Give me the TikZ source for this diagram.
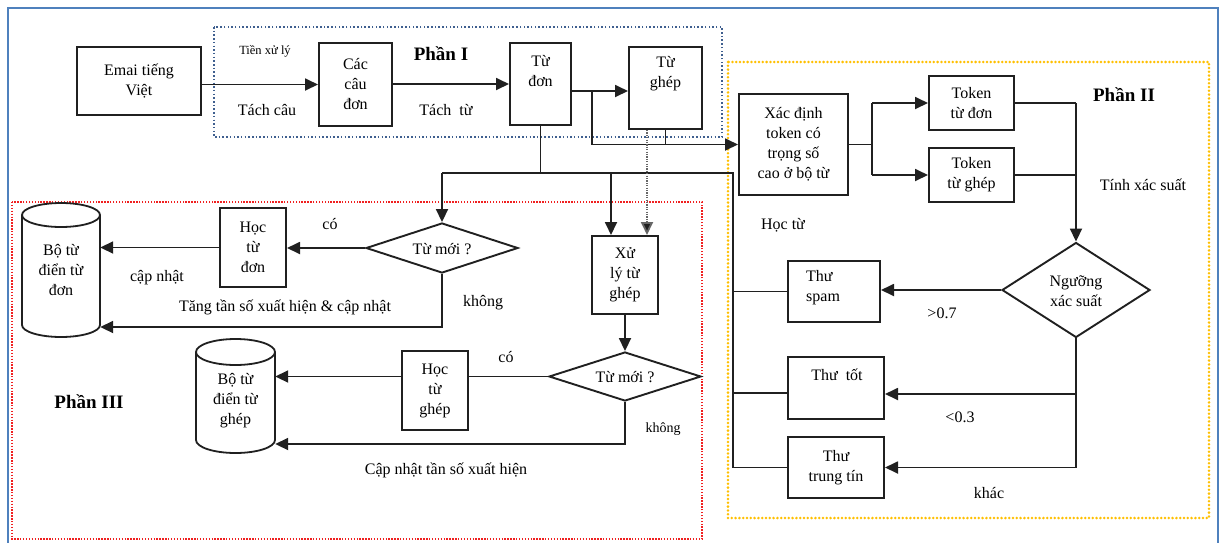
\documentclass[tikz,border=0pt]{standalone}
\usepackage{fontspec}
\setmainfont{Liberation Serif}
\usetikzlibrary{shapes.geometric,arrows.meta}
\definecolor{bordblue}{HTML}{4F81BD}
\definecolor{p1blue}{HTML}{3F5F8F}
\definecolor{p2gold}{HTML}{FFC000}
\definecolor{p3red}{HTML}{F02020}
\definecolor{ink}{HTML}{202020}
\begin{document}
\begin{tikzpicture}[x=1pt,y=-1pt,
  every node/.style={font=\fontsize{16}{20}\selectfont, inner sep=0pt, align=center, text=black},
  box/.style={draw=ink, line width=2pt, rectangle},
  dia/.style={draw=ink, line width=1.9pt, diamond, aspect=2},
  lbl/.style={font=\fontsize{16}{20}\selectfont},
  small/.style={font=\fontsize{12.5}{15}\selectfont},
  ttl/.style={font=\fontsize{19}{22}\selectfont\bfseries},
  ln/.style={draw=ink, line width=1.8pt},
  arr/.style={draw=ink, line width=1.8pt, -{Triangle[length=13pt,width=12pt]}},
  dotarr/.style={draw=black!60, line width=1.8pt, dash pattern=on 1.2pt off 1.2pt, -{Triangle[length=13pt,width=12pt,fill=ink]}},
  cyl/.style={draw=ink, line width=1.8pt}]
\useasboundingbox (0,0) rectangle (1224,542);
\fill[white] (0,0) rectangle (1224,542);
% region frames
\draw[bordblue, line width=2.2pt] (8,8) rectangle (1218,560);
\draw[p1blue, line width=1.5pt, dash pattern=on 1.5pt off 2.2pt] (214,27) rectangle (722,137);
\draw[p2gold, line width=2.8pt, line cap=round, dash pattern=on 0pt off 3.8pt] (728,62) rectangle (1209,518);
\draw[p3red, line width=1.8pt, dash pattern=on 1.4pt off 1.5pt] (12,202) rectangle (702,539);

% Part I nodes
\node[box, minimum width=124pt, minimum height=68pt] (email) at (139,81) {Emai tiếng\\Việt};
\node[box, minimum width=73pt, minimum height=83pt] (cac) at (355.5,84.5) {Các\\câu\\đơn};
\node[box, minimum width=61pt, minimum height=82pt] (tudon) at (540.5,84) {};
\node (tudonT) at (540.5,71) {Từ\\đơn};
\node[box, minimum width=73pt, minimum height=82pt] (tughep) at (665.5,88) {};
\node (tughepT) at (665.5,74) {Từ\\ghép};
\node[small] (tienxl) at (265,51) {Tiền xử lý};
\node[lbl] (tachcau) at (267,110) {Tách câu};
\node[ttl] (p1) at (441,54) {Phần I};
\node[lbl] (tachtu) at (446,110) {Tách\enspace từ};

% Part II nodes
\node[box, minimum width=109pt, minimum height=101pt] (xacdinh) at (793.5,144.5) {Xác định\\token có\\trọng số\\cao ở bộ từ};
\node[box, minimum width=85pt, minimum height=54pt] (tokdon) at (971.5,103) {Token\\từ đơn};
\node[box, minimum width=85pt, minimum height=54pt] (tokghep) at (971.5,175) {Token\\từ ghép};
\node[dia, minimum width=148pt, minimum height=95pt] (nguong) at (1076,290) {};
\node (nguongT) at (1076,291) {Ngưỡng\\xác suất};
\node[box, minimum width=92pt, minimum height=61pt] (spam) at (834,291.5) {};
\node[anchor=west, align=left] (spamT) at (806,288) {Thư\\spam};
\node[box, minimum width=96pt, minimum height=62pt] (tot) at (836,388) {};
\node (totT) at (837,375) {Thư\enspace tốt};
\node[box, minimum width=96pt, minimum height=61pt] (trungtin) at (836,467.5) {Thư\\trung tín};
\node[ttl] (p2) at (1124,95) {Phần II};
\node[lbl] (tinhxs) at (1143,185) {Tính xác suất};
\node[lbl] (hoctu) at (783,225) {Học từ};
\node[lbl] (gt07) at (942,313) {>0.7};
\node[lbl] (lt03) at (960,417) {<0.3};
\node[lbl] (khac) at (989,493) {khác};

% Part III nodes
\node[minimum width=78pt, minimum height=134pt] (dict1) at (61,270) {Bộ từ\\điển từ\\đơn};
\node[minimum width=79pt, minimum height=100pt] (dict2) at (235.5,401) {Bộ từ\\điển từ\\ghép};
\node[box, minimum width=66pt, minimum height=79pt] (hocdon) at (253,247.5) {Học\\từ\\đơn};
\node[dia, minimum width=152pt, minimum height=50pt] (d1) at (442,248) {};
\node (d1T) at (442,249) {Từ mới ?};
\node[box, minimum width=66pt, minimum height=78pt] (xuly) at (625,275) {Xử\\lý từ\\ghép};
\node[dia, minimum width=152pt, minimum height=49pt] (d2) at (625,376.5) {};
\node (d2T) at (625,377) {Từ mới ?};
\node[box, minimum width=66pt, minimum height=79pt] (hocghep) at (435,390.5) {Học\\từ\\ghép};
\node[lbl] (co1) at (330,224) {có};
\node[lbl] (capnhat) at (157,278) {cập nhật};
\node[lbl] (tang) at (285,307) {Tăng tần số xuất hiện \& cập nhật};
\node[lbl] (khong1) at (483,303) {không};
\node[ttl] (p3) at (89,402) {Phần III};
\node[lbl] (co2) at (506,357) {có};
\node[font=\fontsize{14}{17}\selectfont] (khong2) at (663,429) {không};
\node[lbl] (capnhat2) at (446,470) {Cập nhật tần số xuất hiện};

% cylinders
\draw[cyl] (61,215) ellipse [x radius=39pt, y radius=12pt];
\draw[cyl] (22,215) -- (22,325) .. controls (22,331.6) and (39.5,337) .. (61,337) .. controls (82.5,337) and (100,331.6) .. (100,325) -- (100,215);
\draw[cyl] (235.5,352) ellipse [x radius=39.5pt, y radius=13pt];
\draw[cyl] (196,352) -- (196,440) .. controls (196,447.2) and (213.7,453) .. (235.5,453) .. controls (257.3,453) and (275,447.2) .. (275,440) -- (275,352);

% coordinates
\coordinate (j1) at (592,91);
\coordinate (bus) at (0,173);
\coordinate (busR) at (733,173);
\coordinate (tj) at (872,0);

% Part I connectors
\draw[arr] (email.east |- cac.west) -- (cac.west);
\draw[arr] (cac.east |- tudon.west) -- (tudon.west);
\draw[arr] (tudon.east |- j1) -- (tughep.west |- j1);
\draw[arr] (j1) |- (xacdinh.west);
\draw[ln] (tughep.south) -- (tughep.south |- xacdinh.west);
\draw[ln] (tudon.south) -- (tudon.south |- bus);
\draw[ln] (d1.north |- bus) -- (busR) -- (busR |- trungtin.west);
\draw[arr] (d1.north |- bus) -- (d1.north);
\draw[arr] ([xshift=-14pt]xuly.north |- bus) -- ([xshift=-14pt]xuly.north);
\draw[dotarr] ([xshift=-18.5pt]tughep.south) -- ([xshift=22pt]xuly.north);

% Part II connectors
\draw[ln] (xacdinh.east) -- (tj |- xacdinh.east);
\draw[ln] (tj |- tokdon.west) -- (tj |- tokghep.west);
\draw[arr] (tj |- tokdon.west) -- (tokdon.west);
\draw[arr] (tj |- tokghep.west) -- (tokghep.west);
\draw[ln] (tokdon.east) -- (nguong.north |- tokdon.east);
\draw[ln] (tokghep.east) -- (nguong.north |- tokghep.east);
\draw[arr] (nguong.north |- tokdon.east) -- (nguong.north);
\draw[arr] (nguong.west) -- (nguong.west -| spam.east);
\draw[ln] (nguong.south) -- (nguong.south |- trungtin.east);
\draw[arr] (nguong.south |- 0,394) -- (tot.east |- 0,394);
\draw[arr] (nguong.south |- trungtin.east) -- (trungtin.east);
\draw[ln] (busR |- spam.west) -- (spam.west);
\draw[ln] (busR |- 0,393) -- (tot.west |- 0,393);
\draw[ln] (busR |- trungtin.west) -- (trungtin.west);

% Part III connectors
\draw[arr] (d1.west) -- (d1.west -| hocdon.east);
\draw[arr] (hocdon.west) -- (hocdon.west -| dict1.east);
\draw[arr] (d1.south) |- (dict1.east |- 0,327);
\draw[arr] (xuly.south) -- (d2.north);
\draw[ln] (d2.west) -- (d2.west -| hocghep.east);
\draw[arr] (hocghep.west |- d2.west) -- (dict2.east |- d2.west);
\draw[arr] (d2.south) |- (dict2.east |- 0,444);
\end{tikzpicture}
\end{document}
